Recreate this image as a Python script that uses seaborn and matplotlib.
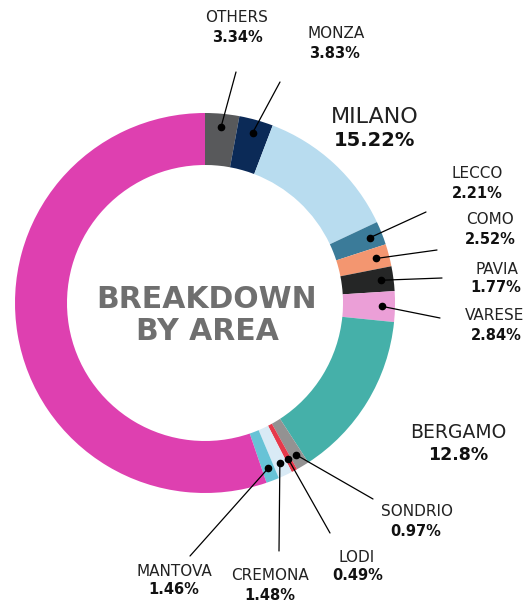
import numpy as np
import seaborn as sns
import matplotlib.pyplot as plt

# areas clockwise from 12 o'clock; last one is the big unlabelled slice
areas = ["OTHERS", "MONZA", "MILANO", "LECCO", "COMO", "PAVIA", "VARESE",
         "BERGAMO", "SONDRIO", "LODI", "CREMONA", "MANTOVA", "BRESCIA"]
pct_labels = ["3.34%", "3.83%", "15.22%", "2.21%", "2.52%", "1.77%", "2.84%",
              "12.8%", "0.97%", "0.49%", "1.48%", "1.46%", None]
# arc share as drawn in the picture (degrees / 3.6)
arc_share = [2.9, 2.9, 12.2, 2.0, 1.9, 2.1, 2.6, 14.25, 1.1, 0.5, 1.2, 1.1, 55.25]
colors = ["#58595b", "#0b2a57", "#b8dcef", "#3b7b99", "#f39670", "#252626",
          "#eb9fd7", "#45b0a9", "#939292", "#e6394b", "#d9eaf5", "#67c3d6",
          "#de40b0"]

W, H = 528, 601


def px(x, y):
    # picture pixels -> data coords (y up)
    return x, H - y


# label layout: name centre, pct centre, leader end (pixels)
layout = {
    "OTHERS": ((237, 17), (237, 37), (236, 72), 11, 10.5),
    "MONZA": ((336, 34), (335, 54), (280, 82), 11, 10.5),
    "MILANO": ((375, 117), (375, 141), None, 16, 14),
    "LECCO": ((477, 174), (477, 193), (426, 212), 11, 10.5),
    "COMO": ((490, 219), (490, 239), (437, 250), 11, 10.5),
    "PAVIA": ((497, 269), (496, 288), (442, 278), 11, 10.5),
    "VARESE": ((495, 316), (496, 336), (440, 318), 11, 10.5),
    "BERGAMO": ((458, 433), (458, 455), None, 13.5, 12.5),
    "SONDRIO": ((417, 512), (416, 531), (373, 499), 11, 10.5),
    "LODI": ((357, 557), (358, 576), (330, 533), 11, 10.5),
    "CREMONA": ((270, 576), (270, 595), (279, 551), 11, 10.5),
    "MANTOVA": ((174, 571), (174, 590), (190, 556), 11, 10.5),
}

sns.set_theme(style="white")
plt.rcParams['font.family'] = ['DejaVu Sans']

fig = plt.figure(figsize=(W / 100, H / 100), dpi=100)
ax = fig.add_axes([0, 0, 1, 1])

center = px(205, 303)
R_out, ring = 190, 52
wedges, _ = ax.pie(arc_share, colors=colors, startangle=90, counterclock=False,
                   radius=R_out, center=center,
                   wedgeprops=dict(width=ring, linewidth=0))

ax.set_xlim(0, W)
ax.set_ylim(0, H)
ax.set_aspect('equal')
ax.axis('off')

# centre title
ax.text(*px(207, 299), "BREAKDOWN", ha='center', va='center',
        fontsize=21.5, fontweight='bold', color="#6f6f6f")
ax.text(*px(207, 332), "BY AREA", ha='center', va='center',
        fontsize=21.5, fontweight='bold', color="#6f6f6f")

dot_r = 177
for w, name, pct in zip(wedges, areas, pct_labels):
    if name not in layout:
        continue
    name_xy, pct_xy, end_xy, fs_name, fs_pct = layout[name]
    ax.text(*px(*name_xy), name, ha='center', va='center',
            fontsize=fs_name, color="#222222")
    ax.text(*px(*pct_xy), pct, ha='center', va='center',
            fontsize=fs_pct, fontweight='bold', color="#111111")
    if end_xy is None:
        continue
    mid = np.deg2rad((w.theta1 + w.theta2) / 2)
    dx = center[0] + dot_r * np.cos(mid)
    dy = center[1] + dot_r * np.sin(mid)
    ex, ey = px(*end_xy)
    ax.plot([dx, ex], [dy, ey], color="black", lw=0.9, solid_capstyle='round')
    ax.plot(dx, dy, 'o', color="black", markersize=4.5)

fig.savefig("out.png", dpi=100)
